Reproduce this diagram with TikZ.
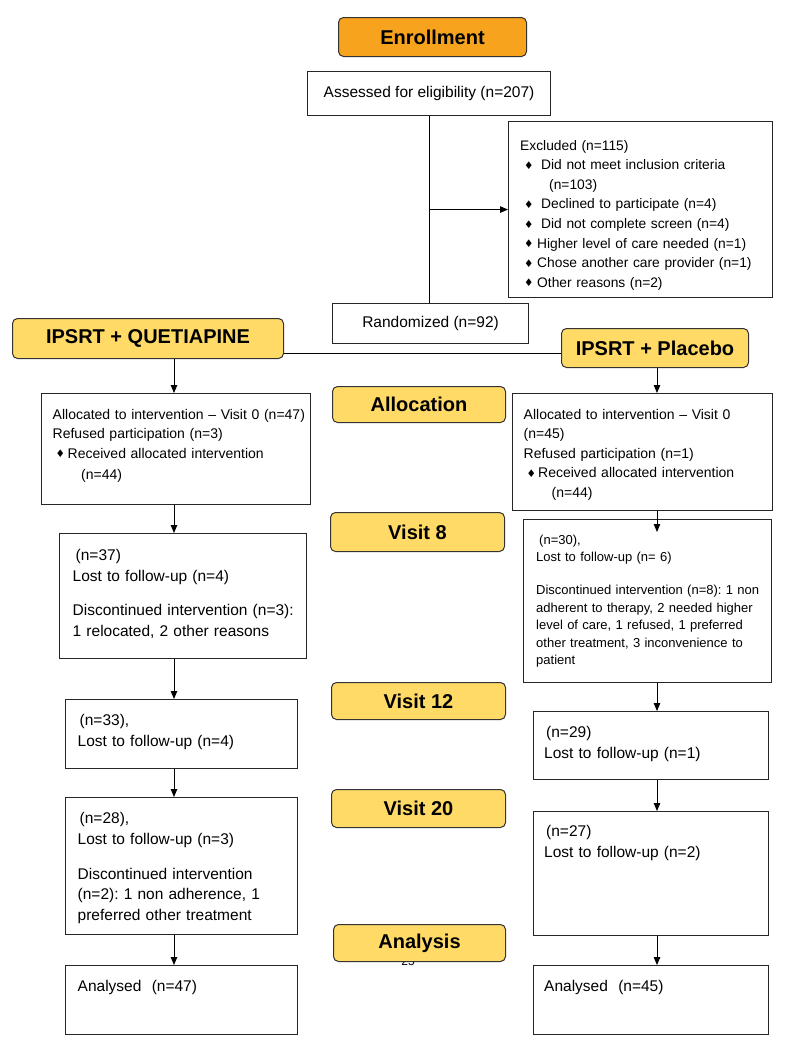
\documentclass[tikz,border=0pt]{standalone}
\usepackage{fontspec}
\setmainfont{Liberation Sans}
\newfontfamily\symfont{DejaVu Sans}
\usepackage{tikz}
\usetikzlibrary{arrows.meta}
\usetikzlibrary{calc}
\definecolor{enrollorange}{HTML}{F7A31E}
\definecolor{stageyellow}{HTML}{FFDA66}
\frenchspacing
\newcommand{\bul}{\raisebox{0.3pt}{\symfont\fontsize{10.5}{10.5}\selectfont ♦}}
\newcommand{\itm}[1]{\hspace*{4pt}\makebox[#1][l]{\bul}}
\newcommand{\fsmid}{\fontsize{15.5}{21}\selectfont}
\newcommand{\fsalloc}{\fontsize{14}{19.5}\selectfont}
\tikzset{
  flowbox/.style = {draw=black!85, line width=1.1pt, anchor=north west, inner sep=0pt},
  stagebox/.style = {draw=black!80, line width=1pt, rounded corners=5pt, fill=stageyellow,
    anchor=north west, inner sep=0pt, font=\fontsize{20}{24}\selectfont\bfseries},
  flowtext/.style = {anchor=base west, inner sep=0pt, align=left, text width=#1},
  arr/.style = {-{Triangle[length=8pt,width=6.5pt]}, line width=0.9pt}
}

\begin{document}
\begin{tikzpicture}[x=1pt, y=-1pt]
\useasboundingbox (0,0) rectangle (788,1050);

% stage labels
\node[stagebox, fill=enrollorange, minimum width=188, minimum height=39] (enroll) at (338,17) {Enrollment};
\node[stagebox, minimum width=271, minimum height=40] (grpq) at (12,318) {IPSRT + QUETIAPINE};
\node[stagebox, minimum width=187, minimum height=39] (grpp) at (561,328) {IPSRT + Placebo};
\node[stagebox, minimum width=173, minimum height=36] (stalloc) at (332,386) {Allocation};
\node[stagebox, minimum width=174, minimum height=39] (stv8) at (330,512) {Visit 8};
\node[stagebox, minimum width=174, minimum height=37] (stv12) at (331,682) {Visit 12};
\node[stagebox, minimum width=174, minimum height=38] (stv20) at (331,789) {Visit 20};
\node[font=\fontsize{12}{12}\selectfont, anchor=base] (pageno) at (408,965) {25};
\node[stagebox, minimum width=172, minimum height=37] (stana) at (333,924) {Analysis};

% enrollment
\node[flowbox, minimum width=243, minimum height=44, font=\fsmid] (assess) at (307,71) {Assessed for eligibility (n=207)};
\node[flowbox, minimum width=264, minimum height=176] (excl) at (508,121) {};
\node[flowtext=250pt, font=\fontsize{13.8}{19.6}\selectfont] (excl-t) at ($(excl.north west)+(12,29)$) {%
  Excluded (n=115)\\
  \itm{17pt}Did not meet inclusion criteria\\
  \hspace*{29pt}(n=103)\\
  \itm{17pt}Declined to participate (n=4)\\
  \itm{17pt}Did not complete screen (n=4)\\
  \itm{13pt}Higher level of care needed (n=1)\\
  \itm{13pt}Chose another care provider (n=1)\\
  \itm{13pt}Other reasons (n=2)};
\node[flowbox, minimum width=196, minimum height=40, font=\fsmid] (rand) at (332,303) {Randomized (n=92)};

% allocation
\node[flowbox, minimum width=269, minimum height=111] (alq) at (41,393) {};
\node[flowtext=258pt, font=\fsalloc] (alq-t) at ($(alq.north west)+(11.5,26)$) {%
  Allocated to intervention – Visit 0 (n=47)\\
  Refused participation (n=3)\\
  \hspace*{3pt}\makebox[12pt][l]{\bul}Received allocated intervention\\[1.5pt]
  \hspace*{28.5pt}(n=44)};
\node[flowbox, minimum width=260, minimum height=117] (alp) at (512,393) {};
\node[flowtext=248pt, font=\fsalloc] (alp-t) at ($(alp.north west)+(11.5,26)$) {%
  Allocated to intervention – Visit 0\\
  (n=45)\\
  Refused participation (n=1)\\
  \hspace*{3pt}\makebox[11.5pt][l]{\bul}Received allocated intervention\\
  \hspace*{28pt}(n=44)};

% visit 8
\node[flowbox, minimum width=247, minimum height=125] (v8q) at (59,533) {};
\node[flowtext=230pt, font=\fsmid] (v8q-t) at ($(v8q.north west)+(13.5,27)$) {%
  \hspace*{3pt}(n=37)\\
  Lost to follow-up (n=4)\\[13pt]
  Discontinued intervention (n=3):\\
  1 relocated, 2 other reasons};
\node[flowbox, minimum width=248, minimum height=163] (v8p) at (523,519) {};
\node[flowtext=234pt, font=\fontsize{13}{17.5}\selectfont] (v8p-t) at ($(v8p.north west)+(13,25)$) {%
  \hspace*{3pt}(n=30),\\
  Lost to follow-up (n= 6)\\[15.5pt]
  Discontinued intervention (n=8): 1 non\\
  adherent to therapy, 2 needed higher\\
  level of care, 1 refused, 1 preferred\\
  other treatment, 3 inconvenience to\\
  patient};

% visit 12
\node[flowbox, minimum width=232, minimum height=69] (v12q) at (65,699) {};
\node[flowtext=218pt, font=\fsmid] (v12q-t) at ($(v12q.north west)+(12.5,26.5)$) {%
  \hspace*{2pt}(n=33),\\
  Lost to follow-up (n=4)};
\node[flowbox, minimum width=235, minimum height=68] (v12p) at (533,711) {};
\node[flowtext=222pt, font=\fsmid] (v12p-t) at ($(v12p.north west)+(11,26.5)$) {%
  \hspace*{2pt}(n=29)\\
  Lost to follow-up (n=1)};

% visit 20
\node[flowbox, minimum width=232, minimum height=137] (v20q) at (65,797) {};
\node[flowtext=218pt, font=\fontsize{15.5}{20.5}\selectfont] (v20q-t) at ($(v20q.north west)+(12.5,26.5)$) {%
  \hspace*{2pt}(n=28),\\
  Lost to follow-up (n=3)\\[14.5pt]
  Discontinued intervention\\
  (n=2): 1 non adherence, 1\\
  preferred other treatment};
\node[flowbox, minimum width=235, minimum height=124] (v20p) at (533,811) {};
\node[flowtext=222pt, font=\fsmid] (v20p-t) at ($(v20p.north west)+(11,25.5)$) {%
  \hspace*{2pt}(n=27)\\
  Lost to follow-up (n=2)};

% analysis
\node[flowbox, minimum width=232, minimum height=69] (anq) at (65,965) {};
\node[flowtext=218pt, font=\fsmid] (anq-t) at ($(anq.north west)+(12.5,26.5)$) {Analysed\ \ (n=47)};
\node[flowbox, minimum width=235, minimum height=69] (anp) at (533,965) {};
\node[flowtext=222pt, font=\fsmid] (anp-t) at ($(anp.north west)+(11,26.5)$) {Analysed\ \ (n=45)};

% connectors
\coordinate (colq) at (174,0);
\coordinate (colp) at (657,0);
\coordinate (split) at (428,353);
\draw[line width=0.9pt] (assess.south) -- (assess.south |- rand.north);
\draw[arr] (assess.south |- excl.west) -- (excl.west);
\draw[line width=0.9pt] (grpq.east |- split) -- (grpp.west |- split);
\draw[arr] (grpq.south -| colq) -- (alq.north -| colq);
\draw[arr] (grpp.south -| colp) -- (alp.north -| colp);
\draw[arr] (alq.south -| colq) -- (v8q.north -| colq);
\draw[arr] (alp.south -| colp) -- ($(v8p.north -| colp)+(0,13)$);
\draw[arr] (v8q.south -| colq) -- (v12q.north -| colq);
\draw[arr] (v8p.south -| colp) -- (v12p.north -| colp);
\draw[arr] (v12q.south -| colq) -- (v20q.north -| colq);
\draw[arr] (v12p.south -| colp) -- (v20p.north -| colp);
\draw[arr] (v20q.south -| colq) -- (anq.north -| colq);
\draw[arr] (v20p.south -| colp) -- (anp.north -| colp);
\end{tikzpicture}
\end{document}
